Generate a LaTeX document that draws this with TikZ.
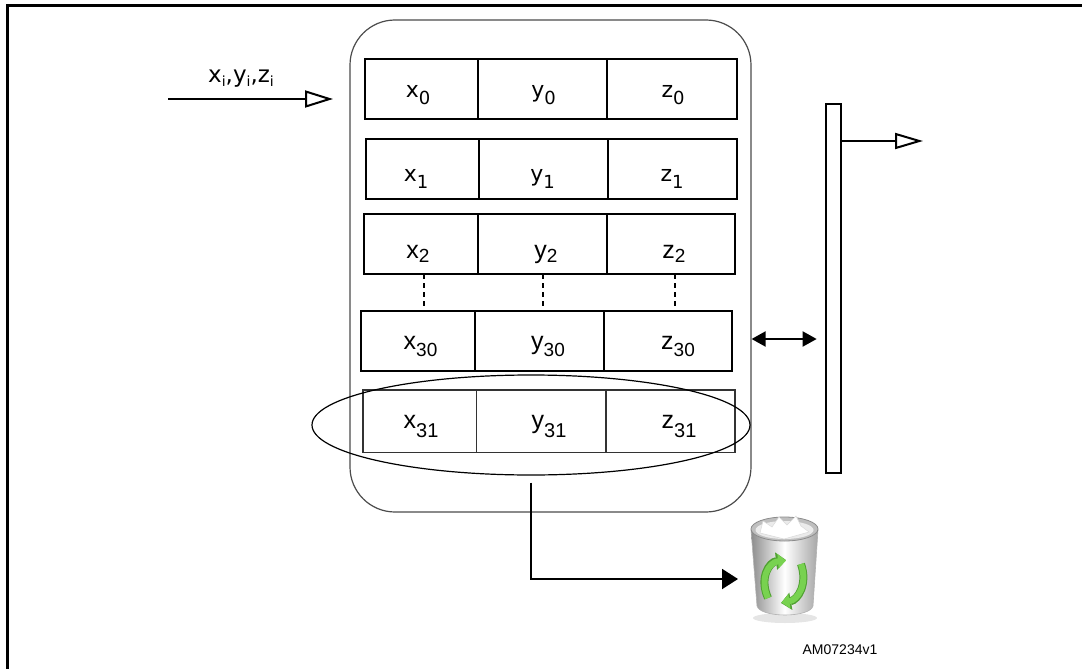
\documentclass[tikz,border=0pt]{standalone}
\usepackage{fontspec}
\newfontfamily\dv{DejaVu Sans}
\newfontfamily\ar{Liberation Sans}
\usetikzlibrary{arrows.meta,shapes.geometric}
\definecolor{recg}{RGB}{120,210,80}
\definecolor{recgd}{RGB}{80,160,50}
\newcommand\cellbox[6]{\node[#6, minimum width={#3-#2}, minimum height={#5-#4}] (#1) at ({(#2+#3)/2},{(#4+#5)/2}) {};}
\newcommand\celltxt[9]{\node[anchor=base, inner sep=0] (#1) at (#2,#3) {#4\fontsize{#5}{#5}\selectfont #6\raisebox{-#8pt}{\fontsize{#7}{#7}\selectfont #9}};}
\newcommand\sbs[1]{\raisebox{-4pt}{\fontsize{14}{14}\selectfont #1}}
\begin{document}
\begin{tikzpicture}[x=1pt,y=-1pt,
  cellb/.style={draw, line width=2pt, inner sep=0, outer sep=0},
  cellthin/.style={draw=black!80, line width=1.4pt, inner sep=0, outer sep=0},
  dotline/.style={line width=2pt, dash pattern=on 5pt off 4pt},
  conn/.style={line width=2pt}]
\useasboundingbox (0,0) rectangle (1082,669);
% frame
\draw[line width=2.5pt] (7.5,690) -- (7.5,5.5) -- (1095,5.5);
% container
\node[draw=black!70, line width=1.2pt, rounded corners=45pt, minimum width=401, minimum height=492, inner sep=0] (buf) at (550.5,266) {};
% row 0
\cellbox{r0x}{365}{478}{59}{119}{cellb}
\cellbox{r0y}{478}{607}{59}{119}{cellb}
\cellbox{r0z}{607}{737}{59}{119}{cellb}
% row 1
\cellbox{r1x}{366}{479}{139}{198.5}{cellb}
\cellbox{r1y}{479}{607.7}{139}{198.5}{cellb}
\cellbox{r1z}{607.7}{737}{139}{198.5}{cellb}
% row 2
\cellbox{r2x}{364}{478}{213.7}{274}{cellb}
\cellbox{r2y}{478}{606.7}{213.7}{274}{cellb}
\cellbox{r2z}{606.7}{735}{213.7}{274}{cellb}
% row 30
\cellbox{r3x}{361}{474.7}{310.7}{371}{cellb}
\cellbox{r3y}{474.7}{604}{310.7}{371}{cellb}
\cellbox{r3z}{604}{732}{310.7}{371}{cellb}
% row 31
\cellbox{r4x}{363}{476.7}{390}{452.7}{cellthin}
\cellbox{r4y}{476.7}{606}{390}{452.7}{cellthin}
\cellbox{r4z}{606}{735}{390}{452.7}{cellthin}
% labels
\celltxt{t0x}{418}{97.3}{\dv}{22}{x}{18}{7.4}{0}
\celltxt{t0y}{543.5}{97.3}{\dv}{22}{y}{18}{7.4}{0}
\celltxt{t0z}{673}{97.3}{\dv}{22}{z}{18}{7.4}{0}
\celltxt{t1x}{416}{181}{\dv}{22}{x}{18}{7}{1}
\celltxt{t1y}{542.5}{181}{\dv}{22}{y}{18}{7}{1}
\celltxt{t1z}{672}{181}{\dv}{22}{z}{18}{7}{1}
\celltxt{t2x}{418}{258}{\ar}{25}{x}{19}{4}{2}
\celltxt{t2y}{546}{258}{\ar}{25}{y}{19}{4}{2}
\celltxt{t2z}{674}{258}{\ar}{25}{z}{19}{4}{2}
\celltxt{t3x}{420.5}{349.3}{\ar}{25}{x}{19}{7.4}{30}
\celltxt{t3y}{548}{349.3}{\ar}{25}{y}{19}{7.4}{30}
\celltxt{t3z}{678}{349.3}{\ar}{25}{z}{19}{7.4}{30}
\celltxt{t4x}{421}{428.3}{\ar}{25}{x}{20}{9}{31}
\celltxt{t4y}{549}{428.3}{\ar}{25}{y}{20}{9}{31}
\celltxt{t4z}{679}{428.3}{\ar}{25}{z}{20}{9}{31}
% dotted continuation
\draw[dotline] ([xshift=3pt]r2x.south) -- ([xshift=3pt]r2x.south |- r3x.north);
\draw[dotline] ([xshift=0.3pt]r2y.south) -- ([xshift=0.3pt]r2y.south |- r3y.north);
\draw[dotline] ([xshift=4pt]r2z.south) -- ([xshift=4pt]r2z.south |- r3z.north);
% ellipse around last row
\node[draw, ellipse, line width=1.2pt, minimum width=438, minimum height=100, inner sep=0] (ell) at (531,425) {};
% bar
\node[draw, line width=2pt, minimum width=15.3, minimum height=369, inner sep=0] (bar) at (833.3,288.5) {};
% input arrow
\coordinate (inA) at (168,99);
\coordinate (inB) at (333,99);
\draw[conn, -{Triangle[open,length=28pt,width=17pt]}] (inA) -- (inB);
\node[anchor=base, inner sep=0] (inlbl) at (241,83) {\dv\fontsize{23}{23}\selectfont x\sbs{i},y\sbs{i},z\sbs{i}};
% output arrow
\coordinate (outlvl) at (0,141);
\coordinate (outtip) at (923,141);
\draw[conn, -{Triangle[open,length=28pt,width=16pt]}] (bar.east |- outlvl) -- (outtip);
% double arrow
\coordinate (lvl) at (0,339);
\draw[conn, {Triangle[length=14pt,width=15pt]}-{Triangle[length=14pt,width=15pt]}, shorten >=8pt] (buf.east |- lvl) -- (bar.west |- lvl);
% arrow to bin
\coordinate (bintip) at (738,579);
\draw[conn, -{Triangle[length=16pt,width=20pt]}] ([yshift=-7pt]ell.south) |- (bintip);
% trash bin
\fill[black!10] (785,618) ellipse [x radius=32, y radius=5];
\path[left color=black!45, right color=black!35, middle color=white, draw=black!30, line width=0.6pt]
  (751,530) -- (757,606) .. controls (760,618) and (810,618) .. (813,606) -- (818,530) -- cycle;
\draw[fill=black!25, draw=black!45, line width=0.8pt] (784.5,529) ellipse [x radius=33.5, y radius=12];
\fill[black!8] (784.5,530) ellipse [x radius=29, y radius=9];
\fill[white, draw=black!15, line width=0.5pt] (760,533) -- (763,521) -- (772,527) -- (779,517) -- (787,525) -- (796,516) -- (801,526) -- (809,532) -- (784,539) -- cycle;
\draw[recgd, line width=8pt, -{Triangle[length=10pt,width=17pt]}] (768,598) .. controls (759,578) and (769,562) .. (786,560);
\draw[recg, line width=6pt, -{Triangle[length=8pt,width=14pt]}] (768,598) .. controls (759,578) and (769,562) .. (786,560.5);
\draw[recgd, line width=8pt, -{Triangle[length=10pt,width=17pt]}] (801,564) .. controls (808,584) and (798,600) .. (781,603);
\draw[recg, line width=6pt, -{Triangle[length=8pt,width=14pt]}] (801,564) .. controls (808,584) and (798,600) .. (781.5,602.5);
% id label
\node[anchor=base, inner sep=0] (am) at (840,654) {\ar\fontsize{14}{14}\selectfont AM07234v1};
\end{tikzpicture}
\end{document}
